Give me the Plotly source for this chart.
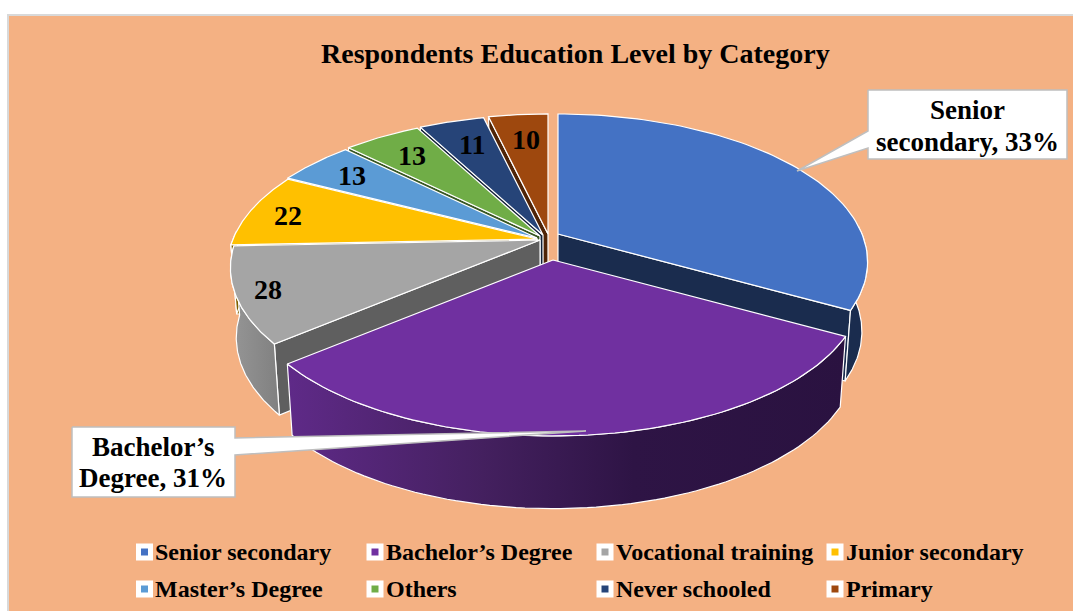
import math
import plotly.graph_objects as go

# ---- data ----
categories = ["Senior secondary", "Bachelor’s Degree", "Vocational training", "Junior secondary",
              "Master’s Degree", "Others", "Never schooled", "Primary"]
values = [89, 83, 28, 22, 13, 13, 11, 10]
title_text = "Respondents Education Level by Category"

# ---- style ----
FONT = "Liberation Serif"
top_colors = ["#4472C4", "#7030A0", "#A5A5A5", "#FFC000", "#5B9BD5", "#70AD47", "#264478", "#9E480E"]
side_colors = ["#1A2C4E", "#2B1240", "#5F5F5F", "#7F6000", "#2E4E6B", "#385723", "#132238", "#4F2407"]
apex_px = [(558, 234), (553, 260), (540, 240), (537, 239), (537, 238), (540, 236), (543, 235), (548, 234)]
label_px = [None, None, (268, 289), (288, 215), (352, 175), (412, 155), (472, 144), (526, 139)]
legend_px = [(144.5, 552), (375, 552), (605, 552), (835, 552), (144.5, 589), (375, 589), (605, 589), (835, 589)]
A, B, K = 304.0, 142.7, 0.189          # projection of the tilted disc
VANISH_X, DEPTH, SHRINK = 553.0, 69.0, 0.982
wall_gradients = {
    1: [[0, "#5F2A88"], [0.35, "#44205F"], [0.62, "#2E1445"], [1, "#2A1240"]],
    2: [[0, "#969696"], [1, "#808080"]],
}

total = sum(values)
edges = [0.0]
for v in values:
    edges.append(edges[-1] + v / total * 360.0)


def rim(theta, apex):
    t = math.radians(theta)
    x, y = math.sin(t), -math.cos(t)
    s = 1.0 / (1.0 - K * y)
    return apex[0] + A * x * s, apex[1] + B * y * s


def lower(pt, apex):
    dy = (pt[1] - apex[1]) / B
    return VANISH_X + (pt[0] - VANISH_X) * SHRINK, pt[1] + DEPTH + 3 * dy


def arc(a, b, apex, n=80):
    return [rim(a + (b - a) * i / n, apex) for i in range(n + 1)]


def poly(pts, fill, line="#FFFFFF", width=1.2, gradient=None):
    kw = dict(fillgradient=dict(type="horizontal", colorscale=gradient)) if gradient else dict(fillcolor=fill)
    pts = list(pts) + [pts[0]]
    return go.Scatter(x=[p[0] for p in pts], y=[p[1] for p in pts], mode="lines", fill="toself",
                      line=dict(color=line, width=width), hoverinfo="skip", showlegend=False, **kw)


fig = go.Figure()

# back to front: small slices first, the two big front slices last
order = [7, 6, 5, 4, 3, 2, 0, 1]
for i in order:
    a0, a1, apex = edges[i], edges[i + 1], apex_px[i]
    # radial wall facing the viewer
    edge_theta = a1 if i == 0 else a0
    if i != 1:
        p = rim(edge_theta, apex)
        fig.add_trace(poly([apex, p, lower(p, apex), lower(apex, apex)], side_colors[i]))
    # outer curved wall
    lo, hi = max(a0, 87.0), min(a1, 273.0)
    if hi > lo:
        pts = arc(lo, hi, apex)
        fig.add_trace(poly(pts + [lower(q, apex) for q in reversed(pts)], side_colors[i],
                           gradient=wall_gradients.get(i)))
    # top face
    fig.add_trace(poly([apex] + arc(a0, a1, apex), top_colors[i]))

# callouts
senior_pct = round(values[0] / total * 100)
bachelor_pct = round(values[1] / total * 100)
GREY = "#BFBFBF"
fig.add_trace(poly([(868, 90), (1067, 90), (1067, 159), (868, 159), (868, 148), (797, 171), (868, 131)],
                   "#FFFFFF", line=GREY, width=1.5))
fig.add_trace(poly([(72, 427), (235, 427), (235, 438), (586, 431), (235, 455), (235, 497), (72, 497)],
                   "#FFFFFF", line=GREY, width=1.5))

# legend keys and names
for i, name in enumerate(categories):
    x, y = legend_px[i]
    fig.add_trace(go.Scatter(x=[x], y=[y], mode="markers", hoverinfo="skip", showlegend=False,
                             marker=dict(symbol="square", size=12, color=top_colors[i],
                                         line=dict(color="#FFFFFF", width=5))))
    fig.add_annotation(x=x + 8.5, y=y, text=f"<b>{name}</b>", showarrow=False, xanchor="left", yanchor="middle",
                       font=dict(family=FONT, size=24, color="#000000"))

# value labels
for i, pos in enumerate(label_px):
    if pos:
        fig.add_annotation(x=pos[0], y=pos[1], text=f"<b>{values[i]}</b>", showarrow=False,
                           font=dict(family=FONT, size=28, color="#000000"))


def callout_line(x, y, text):
    fig.add_annotation(x=x, y=y, text=f"<b>{text}</b>", showarrow=False,
                       font=dict(family=FONT, size=27, color="#000000"))


callout_line(967, 110, "Senior")
callout_line(967, 142, f"secondary, {senior_pct}%")
callout_line(153, 447, "Bachelor’s")
callout_line(153, 478, f"Degree, {bachelor_pct}%")

fig.add_annotation(x=575, y=53, text=f"<b>{title_text}</b>", showarrow=False,
                   font=dict(family=FONT, size=28, color="#000000"))

fig.add_shape(type="rect", x0=8, y0=15, x1=1080, y1=620, layer="below",
              fillcolor="#F4B183", line=dict(color="#D9D9D9", width=2))

fig.update_layout(width=1073, height=611, margin=dict(l=0, r=0, t=0, b=0), autosize=False,
                  paper_bgcolor="#FFFFFF", plot_bgcolor="#FFFFFF", showlegend=False,
                  xaxis=dict(range=[0, 1073], visible=False, fixedrange=True),
                  yaxis=dict(range=[611, 0], visible=False, fixedrange=True))

fig.write_html("out.html", config=dict(displayModeBar=False),
               post_script="document.body.style.margin='0';document.body.style.overflow='hidden';")
